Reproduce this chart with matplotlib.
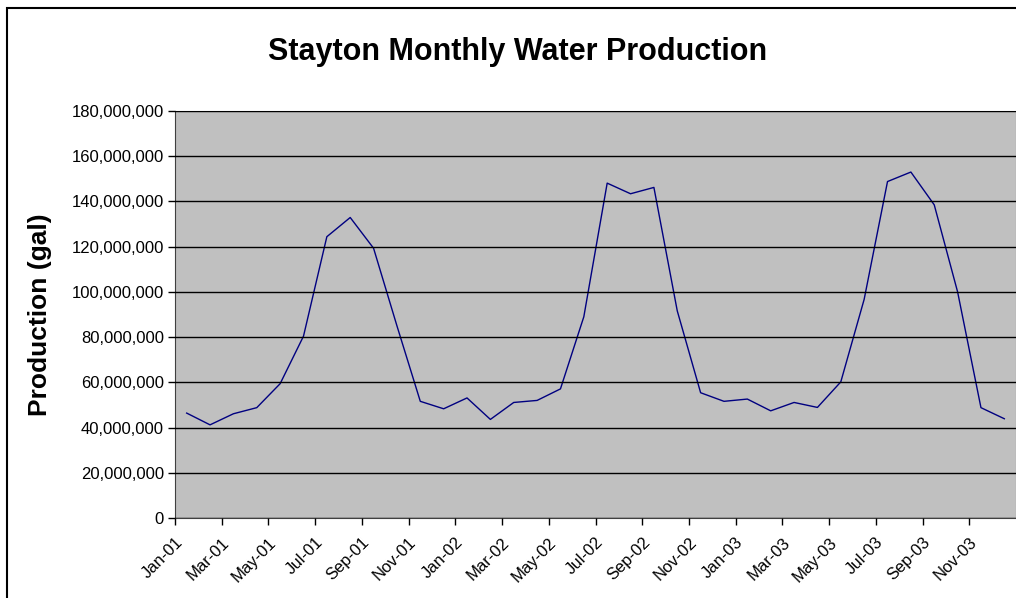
import numpy as np
import matplotlib
matplotlib.use("Agg")
from matplotlib import pyplot as plt
from matplotlib.ticker import FuncFormatter
from matplotlib.patches import Rectangle

plt.rcParams['font.family'] = ['Liberation Sans', 'DejaVu Sans']

# monthly production, gallons (in millions)
months = ['Jan', 'Feb', 'Mar', 'Apr', 'May', 'Jun',
          'Jul', 'Aug', 'Sep', 'Oct', 'Nov', 'Dec']
years = ['01', '02', '03']
prod_2001 = [46.4, 41.2, 46.1, 48.8, 59.4, 80.4, 124.4, 132.9, 119.3, 85.0, 51.6, 48.3]
prod_2002 = [53.1, 43.6, 51.1, 52.0, 57.1, 89.0, 148.1, 143.4, 146.2, 91.6, 55.4, 51.6]
prod_2003 = [52.6, 47.4, 51.1, 48.9, 60.2, 96.7, 148.8, 153.0, 138.5, 100.0, 48.8, 43.9]

labels = [m + '-' + y for y in years for m in months]
production = np.array(prod_2001 + prod_2002 + prod_2003) * 1e6

fig = plt.figure(figsize=(10.16, 5.98), dpi=100)
ax = fig.add_axes([175/1016, 80/598, 841/1016, 407/598])
ax.set_facecolor('#C0C0C0')

x = np.arange(len(production)) + 0.5
ax.plot(x, production, color='#000080', lw=1.0)

ax.set_xlim(0, len(production))
ax.set_ylim(0, 180e6)
ax.set_yticks(np.arange(0, 180e6 + 1, 20e6))
ax.yaxis.set_major_formatter(FuncFormatter(lambda v, p: f'{v:,.0f}'))
ax.grid(axis='y', color='black', lw=1.0)
ax.set_axisbelow(False)

ticks = np.arange(0, len(production), 2)
ax.set_xticks(ticks)
ax.set_xticklabels([labels[i] for i in ticks], rotation=45, ha='right',
                   rotation_mode='anchor')
ax.tick_params(axis='both', direction='out', length=5, width=1, labelsize=12,
               color='black')
ax.tick_params(axis='x', pad=7)
ax.tick_params(axis='y', pad=3)

for side in ['left', 'bottom']:
    ax.spines[side].set_color('#404040')
for side in ['top', 'right']:
    ax.spines[side].set_color('#808080')

ax.set_ylabel('Production (gal)', fontsize=19, fontweight='bold')
ax.yaxis.set_label_coords(-123/841, 0.5)

fig.text(518/1016, 1 - 60/598, 'Stayton Monthly Water Production',
         fontsize=22, fontweight='bold', ha='center', va='baseline')

# chart border (cut off on the right and bottom)
fig.patches.append(Rectangle((7/1016, -0.1), 1.1, 1 - 8/598 + 0.1,
                             transform=fig.transFigure, fill=False,
                             edgecolor='black', lw=1.5))

fig.savefig('out.png', dpi=100)
